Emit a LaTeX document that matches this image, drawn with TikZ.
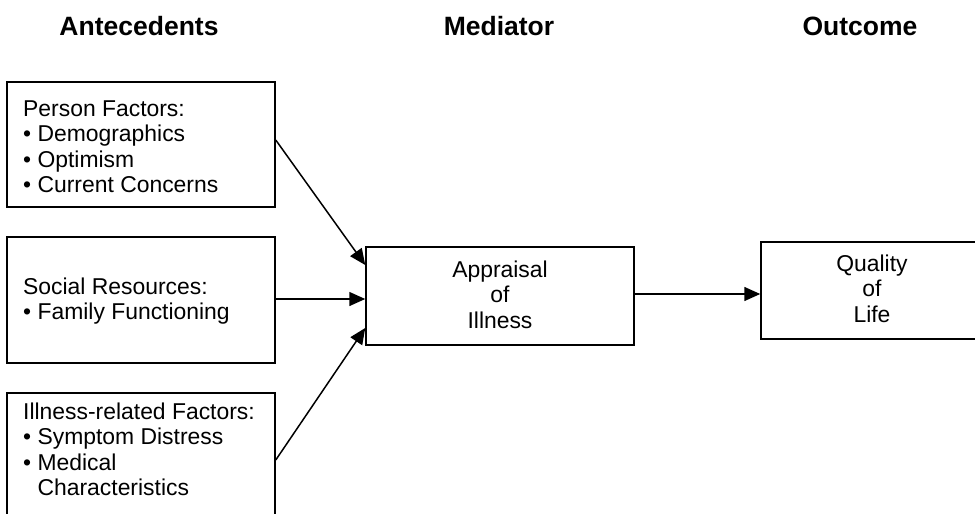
\documentclass[tikz,border=0pt]{standalone}
\usepackage{fontspec}
\setmainfont{Liberation Sans}
\usetikzlibrary{arrows.meta}
\begin{document}
\begin{tikzpicture}[x=1pt,y=-1pt,
  box/.style={draw, line width=1.5pt, inner sep=0pt, rectangle},
  head/.style={font=\fontsize{26.5}{30}\selectfont\bfseries, anchor=base, inner sep=0pt},
  body/.style={font=\fontsize{22.9}{25.5}\selectfont, inner sep=0pt, anchor=north west, align=left},
  cbody/.style={font=\fontsize{22.9}{25.5}\selectfont, inner sep=0pt, anchor=north, align=center},
  arr/.style={line width=1.5pt, -{Triangle[length=16pt,width=14pt]}}]
\clip (0,0) rectangle (975,514);
\useasboundingbox (0,0) rectangle (975,514);
% headings
\node[head] (hA) at (139,35) {Antecedents};
\node[head] (hM) at (499,35) {Mediator};
\node[head] (hO) at (860,35) {Outcome};
% boxes
\node[box, minimum width=268pt, minimum height=125pt] (person) at (141,144.5) {};
\node[box, minimum width=268pt, minimum height=126pt] (social) at (141,300) {};
\node[box, minimum width=268pt, minimum height=123pt] (illness) at (141,454.5) {};
\node[box, minimum width=268pt, minimum height=98pt] (appr) at (500,296) {};
\node[box, minimum width=222pt, minimum height=97pt] (qual) at (872,290.5) {};
% texts
\node[body] (tperson) at (23,99) {\rule{0pt}{17pt}Person Factors:\\• Demographics\\• Optimism\\• Current Concerns};
\node[body] (tsocial) at (23,277) {\rule{0pt}{17pt}Social Resources:\\• Family Functioning};
\node[body] (tillness) at (23,402) {\rule{0pt}{17pt}Illness-related Factors:\\• Symptom Distress\\• Medical\\\phantom{• }Characteristics};
\node[cbody] (tappr) at (500,260) {\rule{0pt}{17pt}Appraisal\\of\\Illness};
\node[cbody] (tqual) at (872,254) {\rule{0pt}{17pt}Quality\\of\\Life};
% connectors
\draw[arr] ([yshift=4.5pt]person.east) -- ([yshift=31pt]appr.west);
\draw[arr] ([yshift=1pt]social.east) -- ([yshift=-3pt]appr.west);
\draw[arr] ([yshift=-5.5pt]illness.east) -- ([yshift=-32pt]appr.west);
\draw[arr] ([yshift=2pt]appr.east) -- ([yshift=-3.5pt]qual.west);
\end{tikzpicture}
\end{document}
